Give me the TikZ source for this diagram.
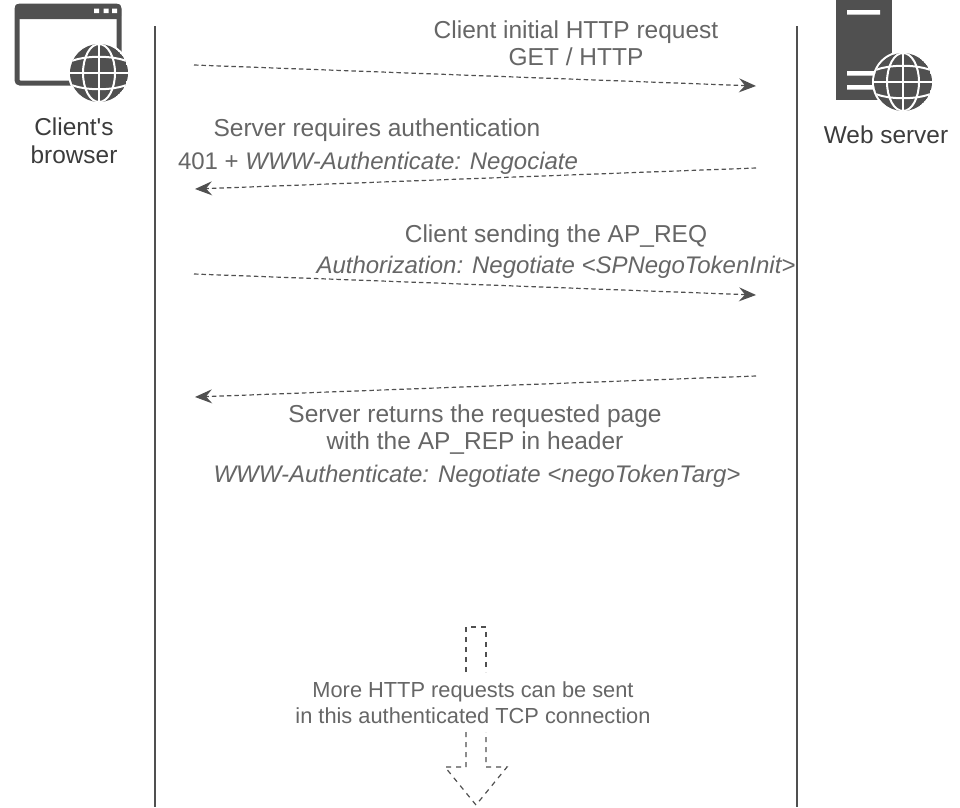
\documentclass[tikz,border=0pt]{standalone}
\usepackage{fontspec}
\newfontfamily\lsans{Liberation Sans}
\usetikzlibrary{arrows.meta}
\definecolor{dark}{HTML}{505050}
\definecolor{txt}{HTML}{666666}
\definecolor{lbl}{HTML}{3C3C3C}
\tikzset{
  msg/.style={draw=dark,line width=1.2pt,dash pattern=on 4.5pt off 3pt,-{Stealth[length=17pt,width=14pt,inset=6pt,fill=dark]}},
  life/.style={draw=dark,line width=1.2pt},
  msgtext/.style={text=txt,font=\lsans\fontsize{24.5}{27}\selectfont,align=center,inner sep=0pt},
  emtext/.style={text=txt,font=\lsans\itshape\fontsize{24}{27}\selectfont,align=center,inner sep=0pt},
  small/.style={text=txt,font=\lsans\fontsize{21.8}{26}\selectfont,align=center,inner sep=0pt},
  actor/.style={text=lbl,font=\lsans\fontsize{24.4}{28}\selectfont,align=center,inner sep=0pt},
  hollow/.style={draw=dark,line width=1.2pt,dash pattern=on 5pt off 5pt},
}
\newcommand{\myglobe}[2]{%
  \begin{scope}[shift={(#1,#2)}]
    \fill[white] (0,0) circle (31);
    \begin{scope}
      \clip (0,0) circle (29);
      \fill[dark] (0,0) circle (29);
      \draw[white,line width=2pt] (0,-30)--(0,30) (-30,0)--(30,0);
      \draw[white,line width=2pt] (0,0) ellipse (16 and 29);
      \draw[white,line width=2pt] (-30,-11) .. controls (-14,-18) and (14,-18) .. (30,-11);
      \draw[white,line width=2pt] (-30,11) .. controls (-14,18) and (14,18) .. (30,11);
    \end{scope}
  \end{scope}}
\begin{document}
\begin{tikzpicture}[x=1pt,y=-1pt]
\useasboundingbox (0,0) rectangle (960,807);
\fill[white] (0,0) rectangle (960,807);
% browser icon
\draw[dark,line width=5pt,rounded corners=3pt] (17,6) rectangle (119,83);
\fill[dark,rounded corners=3pt] (15,4) rectangle (121,19);
\fill[white] (94,8.5) rectangle (99,13) (103.5,8.5) rectangle (108.5,13) (112,8.5) rectangle (117,13);
\myglobe{99}{73}
% server icon
\fill[dark] (836,-2) rectangle (892,100);
\fill[white] (847,10) rectangle (880,14.5) (847,71) rectangle (880,75.5) (847,85) rectangle (880,89.5);
\myglobe{903}{82}
% actors
\node[actor] (client) at (74,141) {Client's\\browser};
\node[actor] (server) at (886,135) {Web server};
% lifelines
\coordinate (lt) at (155,26); \coordinate (lb) at (155,807);
\coordinate (rt) at (797,26); \coordinate (rb) at (797,807);
\draw[life] (lt)--(lb);
\draw[life] (rt)--(rb);
% messages
\coordinate (a1) at (194,65); \coordinate (b1) at (756,86);
\coordinate (a2) at (756,168); \coordinate (b2) at (195,189);
\coordinate (a3) at (194,274); \coordinate (b3) at (756,295);
\coordinate (a4) at (756,376); \coordinate (b4) at (195,397);
\draw[msg] (a1)--(b1);
\draw[msg] (a2)--(b2);
\draw[msg] (a3)--(b3);
\draw[msg] (a4)--(b4);
\node[msgtext] (m1) at (576,43) {Client initial HTTP request\\GET / HTTP};
\node[msgtext] (m2a) at (377,130) {Server requires authentication};
\node[emtext] (m2b) at (378,163) {\upshape 401 + \itshape WWW-Authenticate: Negociate};
\node[msgtext] (m3a) at (556,236) {Client sending the AP\_REQ};
\node[emtext] (m3b) at (556,267) {Authorization: Negotiate <SPNegoTokenInit>};
\node[msgtext] (m4) at (475,430) {Server returns the requested page\\with the AP\_REP in header};
\node[emtext] (m4b) at (477,476) {WWW-Authenticate: Negotiate <negoTokenTarg>};
\node[small] (more) at (473,703) {More HTTP requests can be sent\\in this authenticated TCP connection};
% hollow arrow
\coordinate (h1) at (466,672); \coordinate (h2) at (466,627); \coordinate (h3) at (486,627); \coordinate (h4) at (486,672);
\coordinate (h5) at (466,732); \coordinate (h6) at (466,767); \coordinate (h7) at (445,767);
\coordinate (h8) at (476,805); \coordinate (h9) at (507,767); \coordinate (h10) at (486,767); \coordinate (h11) at (486,732);
\draw[hollow] (h1)--(h2)--(h3)--(h4);
\draw[hollow] (h5)--(h6)--(h7)--(h8)--(h9)--(h10)--(h11);
\end{tikzpicture}
\end{document}
